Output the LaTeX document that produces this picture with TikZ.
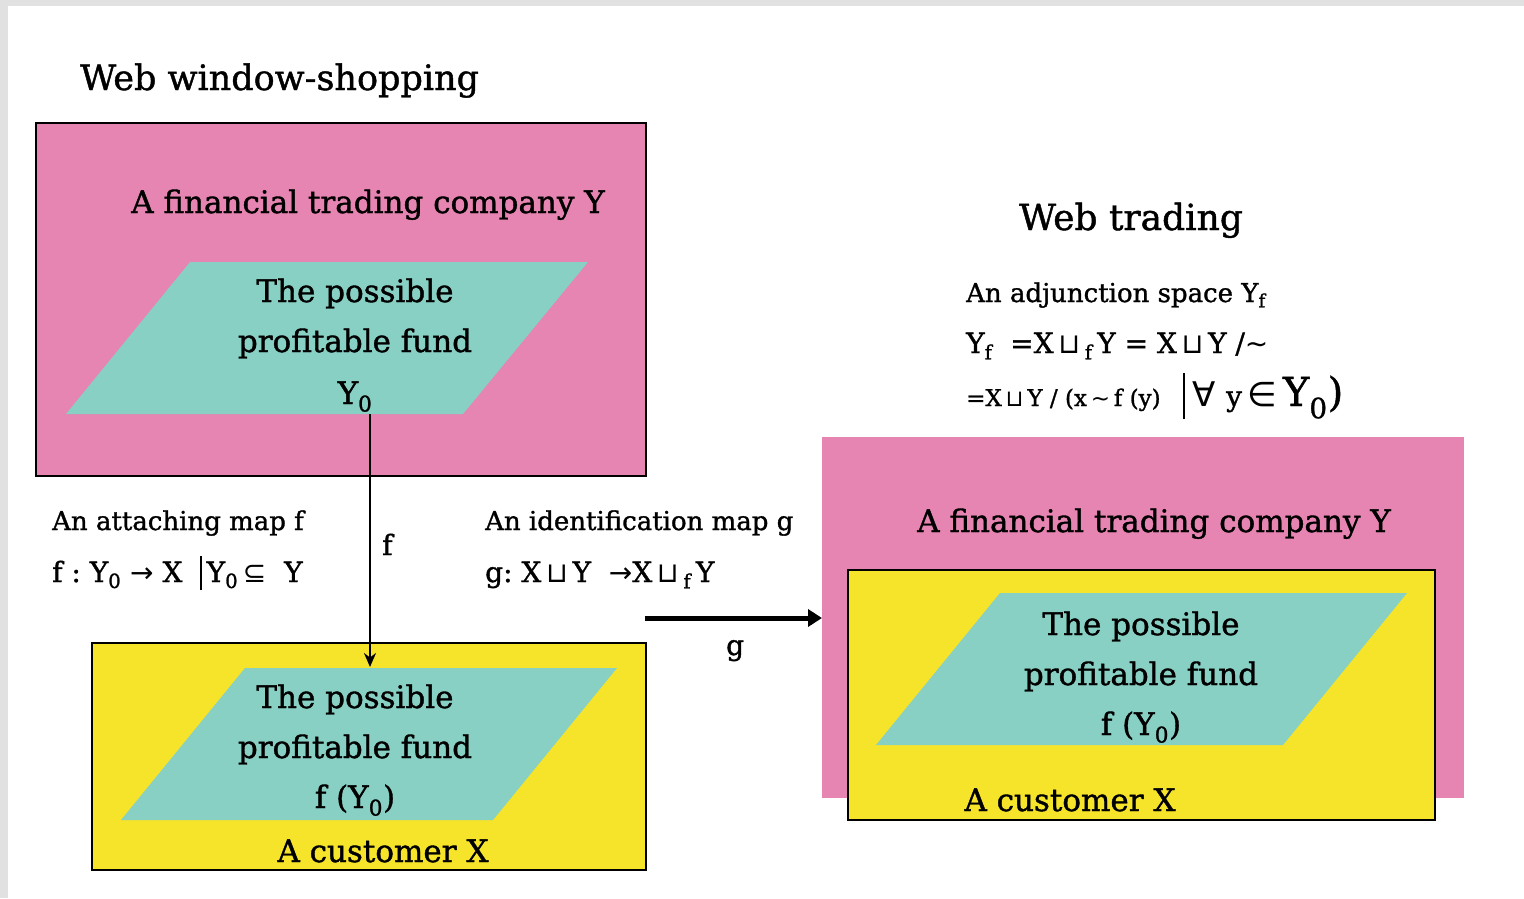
\documentclass[tikz,border=0pt]{standalone}
\usepackage{fontspec}
\setmainfont{DejaVu Serif}[FakeBold=1.2]
\newfontfamily\symf{DejaVu Sans}
\usetikzlibrary{arrows.meta}
\definecolor{pinkbox}{RGB}{230,132,178}
\definecolor{tealfund}{RGB}{136,207,196}
\definecolor{yellowbox}{RGB}{246,228,42}
\definecolor{edgegray}{RGB}{225,225,225}
\newcommand{\fsz}[1]{\fontsize{#1}{#1}\selectfont}
\newcommand{\subz}{\textsubscript{0}}
\newcommand{\sy}[1]{{\symf #1}}
\tikzset{
  area/.style={inner sep=0pt, outer sep=0pt, anchor=north west},
  framed/.style={area, draw=black, line width=2.5pt},
  fund/.style={fill=tealfund},
  txt/.style={inner sep=0pt, anchor=base, font=\fsz{31}},
  lbl/.style={inner sep=0pt, anchor=base west, font=\fsz{26}},
  frm/.style={inner sep=0pt, anchor=base west, font=\fsz{28}},
  thin arrow/.style={line width=2.2pt, -{Stealth[length=14pt,width=12pt]}},
  thick arrow/.style={line width=5pt, -{Triangle[length=14pt,width=17pt]}}
}
\begin{document}
\begin{tikzpicture}[x=1pt,y=-1pt]
\useasboundingbox (0,0) rectangle (1524,898);
% page edges
\fill[edgegray] (0,0) rectangle (1524,6);
\fill[edgegray] (0,0) rectangle (8,898);

% ---------- Web window-shopping ----------
\node[inner sep=0pt, anchor=base west, font=\fsz{35}] (title1) at (80,90) {Web window-shopping};

\node[framed, fill=pinkbox, minimum width=610pt, minimum height=353pt] (lpink) at (36,123) {};
\node[txt] (lpinkTxt) at (368,213) {A financial trading company Y};
\fill[fund] (190,262) -- (588,262) -- (463,414) -- (66,414) -- cycle;
\node[txt] (lfund1) at (355,302) {The possible};
\node[txt] (lfund2) at (355,352) {profitable fund};
\node[txt] (lfund3) at (355,404) {Y\subz};

\node[framed, fill=yellowbox, minimum width=554pt, minimum height=227pt] (lyellow) at (92,643) {};
\fill[fund] (245,668) -- (617,668) -- (493,820) -- (121,820) -- cycle;
\node[txt] (lfx1) at (355,708) {The possible};
\node[txt] (lfx2) at (355,758) {profitable fund};
\node[txt] (lfx3) at (355,808) {f (Y\subz)};
\node[txt] (lcust) at (383,862) {A customer X};

% attaching map f
\coordinate (fsrc) at (370,414);
\coordinate (fdst) at (370,667);
\draw[thin arrow] (fsrc) -- (fdst);
\node[frm] (flabel) at (382,555) {f};

\node[lbl] (attach) at (52,530) {An attaching map f};
\node[frm] (attachF) at (52,582) {f\ :\ Y\subz\ \sy{→}\ X\ \ \rule[-8pt]{1.8pt}{34pt}\,Y\subz\,\sy{⊆}\ \ Y};

% identification map g
\node[lbl] (ident) at (485,530) {An identification map g};
\node[frm] (identF) at (485,582) {g:\ X\,\sy{⊔}\,Y\ \ \sy{→}X\,\sy{⊔}\,\textsubscript{f}\,Y};

% ---------- Web trading ----------
\node[inner sep=0pt, anchor=base, font=\fsz{36}] (title2) at (1131,230) {Web trading};
\node[lbl] (adj) at (966,302) {An adjunction space Y\textsubscript{f}};
\node[frm] (adjF1) at (966,353) {Y\textsubscript{f}\ \ =X\,\sy{⊔}\,\textsubscript{f}\,Y = X\,\sy{⊔}\,Y /\sy{∼}};
\node[inner sep=0pt, anchor=base west] (adjF2) at (966,406)
  {\fsz{23}=X\,\sy{⊔}\,Y / (x\,\sy{∼}\,f (y)\ \ \ \rule[-13pt]{2.2pt}{46pt}\ {\fsz{34}\sy{∀}\ {\fsz{28}y}\,\sy{∈}\,{\fsz{40}Y\subz)}}};

\node[area, fill=pinkbox, minimum width=642pt, minimum height=361pt] (rpink) at (822,437) {};
\node[txt] (rpinkTxt) at (1154,532) {A financial trading company Y};
\node[framed, fill=yellowbox, minimum width=587pt, minimum height=250pt] (ryellow) at (848,570) {};
\fill[fund] (1000,593) -- (1407,593) -- (1283,745) -- (876,745) -- cycle;
\node[txt] (rfx1) at (1141,635) {The possible};
\node[txt] (rfx2) at (1141,685) {profitable fund};
\node[txt] (rfx3) at (1141,735) {f (Y\subz)};
\node[txt] (rcust) at (1070,811) {A customer X};

\coordinate (gsrc) at (645,618);
\draw[thick arrow] (gsrc) -- (rpink.west |- gsrc);
\node[frm] (glabel) at (726,655) {g};
\end{tikzpicture}
\end{document}
